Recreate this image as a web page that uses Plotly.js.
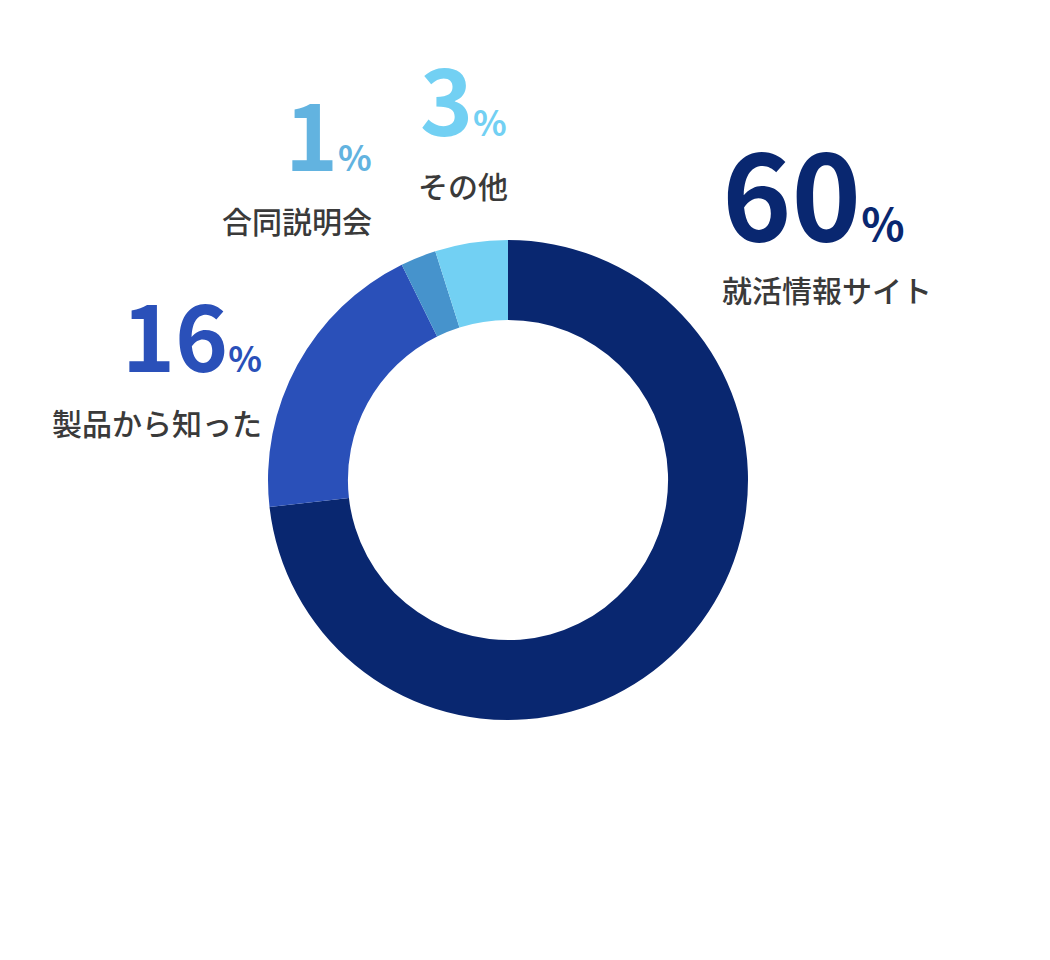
<!DOCTYPE html>
<html lang="ja">
<head>
<meta charset="utf-8">
<title>就活の情報源</title>
<script src="https://cdn.plot.ly/plotly-3.0.1.min.js"></script>
<style>
    html, body {
        margin: 0;
        padding: 0;
        background: #ffffff;
    }

    #chart {
        width: 1050px;
        height: 960px;
    }
</style>
</head>
<body>
<div id="chart"></div>
<script>
"use strict";

// 円グラフの並び順（12時から時計回り）
const categories = [
    "就活情報サイト",
    "製品から知った",
    "合同説明会",
    "その他",
];

// 表示されている割合（ラベル）
const labelPercents = [60, 16, 1, 3];

// 図から読み取った扇形の大きさ（%）
const sliceShares = [73.2, 19.5, 2.4, 4.9];

const sliceColors = [
    "#092770",
    "#2a50b9",
    "#4693cc",
    "#72d0f3",
];

const numberColors = [
    "#092770",
    "#2a50b9",
    "#62b3e0",
    "#72d0f3",
];

const W = 1050;
const H = 960;

// ラベル位置 (px): [x, 数字のy, 文字のy, xanchor, 数字サイズ, %サイズ]
const labelSpots = [
    [720, 190, 289, "left", 118, 45],
    [264, 333, 422, "right", 90, 35],
    [374, 132, 220, "right", 90, 35],
    [463, 97, 185, "center", 90, 35],
];

const FONT = "'Noto Sans CJK JP', 'Noto Sans', sans-serif";

document.addEventListener("DOMContentLoaded", () => {
    const trace = {
        type: "pie",
        labels: categories,
        values: sliceShares,
        sort: false,
        direction: "clockwise",
        rotation: 0,
        hole: 0.667,
        textinfo: "none",
        hoverinfo: "skip",
        marker: {
            colors: sliceColors,
            line: { width: 0 },
        },
        domain: {
            x: [(508 - 240) / W, (508 + 240) / W],
            y: [240 / H, 720 / H],
        },
    };

    const annotations = [];

    categories.forEach((name, i) => {
        const [px, numY, textY, anchor, numSize, pctSize] =
            labelSpots[i];

        annotations.push({
            xref: "paper",
            yref: "paper",
            x: px / W,
            y: 1 - numY / H,
            xanchor: anchor,
            yanchor: "middle",
            showarrow: false,
            text:
                `${labelPercents[i]}` +
                `<span style="font-size:${pctSize}px">%</span>`,
            font: {
                family: FONT,
                size: numSize,
                color: numberColors[i],
                weight: 700,
            },
        });

        annotations.push({
            xref: "paper",
            yref: "paper",
            x: px / W,
            y: 1 - textY / H,
            xanchor: anchor,
            yanchor: "middle",
            showarrow: false,
            text: name,
            font: {
                family: FONT,
                size: 30,
                color: "#3a3a3a",
                weight: 500,
            },
        });
    });

    Plotly.newPlot(
        "chart",
        [trace],
        {
            width: W,
            height: H,
            showlegend: false,
            margin: { t: 0, r: 0, b: 0, l: 0 },
            paper_bgcolor: "#ffffff",
            plot_bgcolor: "#ffffff",
            annotations: annotations,
        },
        {
            displayModeBar: false,
            staticPlot: true,
        }
    );
});
</script>
</body>
</html>
